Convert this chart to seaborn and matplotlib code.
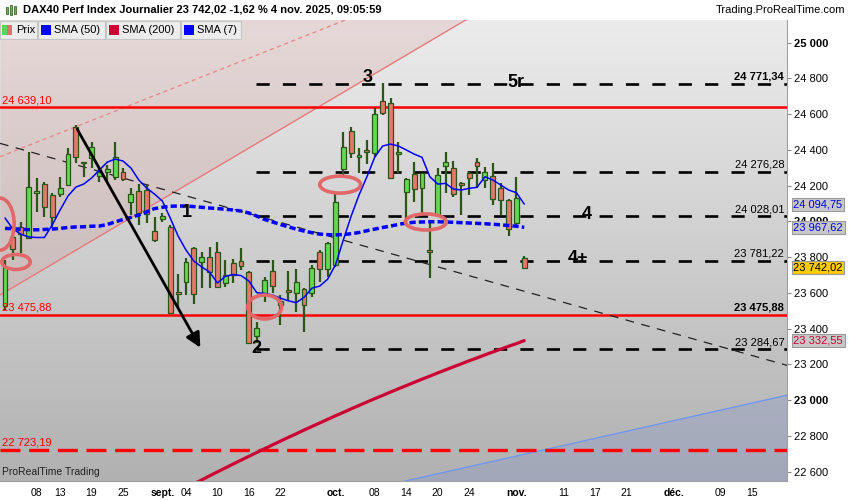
import numpy as np
import pandas as pd
import matplotlib
matplotlib.use("Agg")
import matplotlib.pyplot as plt
import seaborn as sns
from matplotlib.patches import Ellipse, Rectangle
from matplotlib.colors import LinearSegmentedColormap

# -----------------------------
# Data
# -----------------------------
dates = pd.bdate_range("2025-08-04", "2025-11-04")
all_days = pd.bdate_range("2025-08-04", "2025-12-19")

opens = [23527, 23911, 23970, 23905, 24160, 24208, 24148, 24153, 24204, 24530,
         24325, 24356, 24254, 24275, 24250, 24275, 24107, 24172, 24176, 23948,
         24012, 23970, 23603, 23663, 23849, 23771, 23799, 23830, 23657, 23766,
         23780, 23715, 23359, 23598, 23724, 23530, 23610, 23598, 23620, 23598,
         23830, 23732, 23756, 24291, 24508, 24359, 24400, 24381, 24675, 24664,
         24376, 24166, 24264, 24185, 23835, 24036, 24310, 24297, 24210, 24272,
         24331, 24232, 24256, 24185, 24120, 23989, 23797]
highs = [23784, 23918, 23995, 24390, 24241, 24222, 24160, 24247, 24409, 24540,
         24334, 24443, 24306, 24316, 24446, 24297, 24185, 24209, 24204, 24026,
         24045, 23980, 23704, 23793, 23855, 23830, 23855, 23886, 23784, 23788,
         23849, 23720, 23439, 23687, 23784, 23588, 23724, 23732, 23626, 23756,
         23840, 23886, 24153, 24502, 24530, 24409, 24456, 24633, 24773, 24689,
         24446, 24241, 24334, 24269, 23989, 24297, 24387, 24340, 24222, 24278,
         24353, 24306, 24325, 24213, 24125, 24247, 23806]
lows = [23504, 23784, 23822, 23902, 24054, 24026, 23961, 24138, 24200, 24325,
        24250, 24297, 24222, 24222, 24232, 24226, 24036, 23980, 23989, 23886,
        23998, 23482, 23514, 23588, 23538, 23626, 23626, 23631, 23631, 23654,
        23728, 23314, 23318, 23551, 23598, 23420, 23560, 23495, 23383, 23579,
        23663, 23690, 23746, 24260, 24353, 24269, 24321, 24359, 24595, 24241,
        24269, 23985, 24110, 24045, 23682, 24026, 24157, 24135, 24036, 24148,
        24185, 24185, 24092, 24036, 23918, 23980, 23738]
closes = [23747, 23845, 23929, 24194, 24168, 24079, 24023, 24185, 24376, 24359,
          24330, 24418, 24278, 24293, 24362, 24236, 24153, 24045, 24040, 23896,
          24032, 23486, 23594, 23771, 23594, 23802, 23715, 23635, 23700, 23700,
          23750, 23321, 23402, 23672, 23638, 23555, 23605, 23663, 23532, 23738,
          23732, 23877, 24110, 24418, 24381, 24372, 24387, 24599, 24608, 24241,
          24387, 24236, 24180, 24269, 23830, 24260, 24331, 24153, 24205, 24241,
          24310, 24278, 24124, 24120, 23956, 24129, 23742]

sma7 = [24019, 23957, 23929, 23913, 23910, 23910, 23980, 24064, 24142, 24192,
        24209, 24243, 24288, 24332, 24349, 24338, 24299, 24232, 24187, 24153,
        24114, 24019, 23918, 23840, 23778, 23745, 23717, 23655, 23692, 23703,
        23697, 23666, 23601, 23597, 23588, 23570, 23556, 23545, 23575, 23626,
        23638, 23676, 23756, 23896, 24030, 24148, 24250, 24360, 24422, 24433,
        24422, 24400, 24377, 24359, 24250, 24209, 24213, 24181, 24176, 24185,
        24191, 24250, 24232, 24204, 24176, 24161, 24097]
sma50 = [23961, 23959, 23956, 23954, 23953, 23955, 23957, 23961, 23966, 23969,
         23970, 23973, 23974, 23983, 23997, 24011, 24022, 24036, 24053, 24072,
         24079, 24085, 24086, 24086, 24083, 24079, 24075, 24072, 24068, 24064,
         24058, 24047, 24030, 24011, 23997, 23983, 23970, 23957, 23946, 23937,
         23929, 23926, 23924, 23927, 23931, 23938, 23948, 23957, 23966, 23974,
         23983, 23991, 23995, 23997, 23998, 23998, 23997, 23995, 23993, 23991,
         23989, 23987, 23984, 23981, 23977, 23973, 23967]
# SMA(200) from 2025-09-04 on (earlier values are below the visible range)
sma200 = [22509, 22531, 22553, 22576, 22598, 22620, 22642, 22664, 22685, 22707,
          22728, 22749, 22770, 22791, 22811, 22832, 22852, 22872, 22892, 22912,
          22931, 22951, 22970, 22989, 23008, 23026, 23045, 23063, 23081, 23099,
          23117, 23134, 23152, 23169, 23186, 23203, 23220, 23236, 23253, 23269,
          23285, 23301, 23316, 23333]

red_levels = [24639.10, 23475.88]
red_dashed_level = 22723.19
black_levels = [24771.34, 24276.28, 24028.01, 23781.22, 23284.67]

# drawn objects (x = trading-day position, y = index value)
trend_x, trend_y = [-0.64, 99.5], [24437, 23193]
chan_x = [-0.64, 60]
chan_low_y = [23588, 25165]
chan_high_y = [24362, 25419]
blue_x, blue_y = [50.9, 99.5], [22547, 23028]
arrow_from, arrow_to = (9.0, 24530), (25.0, 23280)
ellipses = [(-0.64, 23985, 3.6, 291), (1.4, 23773, 3.6, 84), (33.0, 23521, 4.3, 134),
            (42.6, 24206, 5.2, 95), (53.5, 23997, 5.2, 90)]
wave_labels = [("1", 23.1, 24052), ("2", 32.0, 23286), ("3", 46.1, 24803),
               ("4", 73.9, 24036), ("4+", 72.8, 23795), ("5r", 65.0, 24780)]

tick_dates = ["2025-08-08", "2025-08-13", "2025-08-19", "2025-08-25", "2025-09-01",
              "2025-09-04", "2025-09-10", "2025-09-16", "2025-09-22", "2025-10-01",
              "2025-10-08", "2025-10-14", "2025-10-20", "2025-10-24", "2025-11-03",
              "2025-11-11", "2025-11-17", "2025-11-21", "2025-12-01", "2025-12-09",
              "2025-12-15"]
tick_labels = ["08", "13", "19", "25", "sept.", "04", "10", "16", "22", "oct.",
               "08", "14", "20", "24", "nov.", "11", "17", "21", "déc.", "09", "15"]

# -----------------------------
# Figure
# -----------------------------
sns.set_style("white")
plt.rcParams["font.family"] = ["Liberation Sans", "DejaVu Sans"]
plt.rcParams["text.color"] = "black"
plt.rcParams["xtick.color"] = "black"
plt.rcParams["ytick.color"] = "black"

fig = plt.figure(figsize=(8.5, 5), dpi=100)
ax = fig.add_axes([0, 19 / 500, 787 / 850, 462 / 500])
xlo, xhi = -0.64, 99.4
ylo, yhi = 22547, 25133

bg = LinearSegmentedColormap.from_list("bg", ["#b1b1b1", "#ececec"])
ax.imshow(np.linspace(0, 1, 256).reshape(-1, 1), extent=[xlo, xhi, ylo, yhi],
          origin="lower", aspect="auto", cmap=bg, zorder=0)

# channel (pink area above the lower line)
cx = np.linspace(chan_x[0], chan_x[1], 200)
cy = np.interp(cx, chan_x, chan_low_y)
ax.fill_between(cx, np.minimum(cy, yhi), yhi, color="#d27a7a", alpha=0.17, lw=0, zorder=0.5)
ax.plot(chan_x, chan_low_y, color="#e87a7a", lw=1, zorder=1)
ax.plot(chan_x, chan_high_y, color="#e88a8a", lw=1, ls=(0, (3, 2.5)), zorder=1)

# light blue line and area
ax.fill_between(blue_x, blue_y, ylo, color="#7d8fcf", alpha=0.27, lw=0, zorder=0.5)
ax.plot(blue_x, blue_y, color="#6f96f0", lw=1, zorder=1)

# horizontal levels
for lvl in red_levels:
    ax.axhline(lvl, color="#ff0000", lw=1.8, zorder=2)
ax.axhline(red_dashed_level, color="#ff0000", lw=2.4, ls=(0, (6, 2.6)), zorder=2)
for lvl in black_levels:
    ax.plot([31.9, xhi], [lvl, lvl], color="black", lw=1.9, ls=(0, (5, 5)), zorder=2)

ax.plot(trend_x, trend_y, color="#222222", lw=0.9, ls=(0, (7, 6)), zorder=2)


def fmt(v, dec=2):
    s = f"{v:,.{dec}f}"
    return s.replace(",", " ").replace(".", ",")


for lvl in red_levels + [red_dashed_level]:
    ax.text(xlo + 0.25, lvl + 12, fmt(lvl), color="#ff0000", fontsize=8, va="bottom", zorder=7)
for lvl in black_levels:
    ax.text(xhi - 0.35, lvl + 12, fmt(lvl), color="black", fontsize=8, ha="right", va="bottom",
            fontweight="bold" if lvl == black_levels[0] else "normal", zorder=7)
ax.text(xhi - 0.35, red_levels[1] + 12, fmt(red_levels[1]), color="black", fontsize=8,
        ha="right", va="bottom", fontweight="bold", zorder=7)

# candles
x = np.arange(len(dates))
o = np.array(opens)
c = np.array(closes)
wick = "#2c5518"
up = c >= o
ax.vlines(x, lows, highs, color=wick, lw=1.6, zorder=3)
body_lo = np.minimum(o, c)
body_h = np.maximum(np.abs(c - o), 9)
ax.bar(x, body_h, bottom=body_lo, width=0.62,
       color=np.where(up, "#62d853", "#e6776c"), edgecolor=wick, linewidth=0.9, zorder=4)

# moving averages
sns.lineplot(x=x, y=sma50, ax=ax, color="#0000ff", lw=2.5, zorder=5)
ax.lines[-1].set_linestyle((0, (1.8, 0.9)))
sns.lineplot(x=x[len(dates) - len(sma200):], y=sma200, ax=ax, color="#cc0033", lw=2.3, zorder=5)
sns.lineplot(x=x, y=sma7, ax=ax, color="#0000ff", lw=1.1, zorder=5)

# annotations
for ex, ey, ew, eh in ellipses:
    ax.add_patch(Ellipse((ex, ey), ew, eh, fill=False, ec="#e06868", lw=2.6, zorder=6))
ax.annotate("", xy=arrow_to, xytext=arrow_from,
            arrowprops=dict(arrowstyle="-|>", color="black", lw=2, mutation_scale=22), zorder=6)
for txt, tx, ty in wave_labels:
    ax.text(tx, ty, txt, fontsize=13, fontweight="bold", color="black",
            ha="center", va="center", zorder=7)

ax.text(xlo + 0.25, ylo + 35, "ProRealTime Trading", fontsize=7.5, color="#222222", zorder=7)

# axes
ax.set_xlim(xlo, xhi)
ax.set_ylim(ylo, yhi)
ax.set_xlabel("")
ax.set_ylabel("")
ax.yaxis.tick_right()
yt = np.arange(22600, 25001, 200)
ax.set_yticks(yt)
ax.set_yticklabels([fmt(v, 0) for v in yt], fontsize=8)
for lab, v in zip(ax.get_yticklabels(), yt):
    if v % 1000 == 0:
        lab.set_fontweight("bold")
tick_pos = [all_days.get_loc(pd.Timestamp(d)) for d in tick_dates]
ax.set_xticks(tick_pos)
ax.set_xticklabels(tick_labels, fontsize=7.5)
for lab in ax.get_xticklabels():
    if not lab.get_text().isdigit():
        lab.set_fontweight("bold")
ax.tick_params(axis="both", direction="out", length=3, width=0.8, color="#888888", pad=2)
for side in ["top", "left"]:
    ax.spines[side].set_visible(False)
for side in ["right", "bottom"]:
    ax.spines[side].set_color("#a0a0a0")

# value boxes on the price axis
boxes = [(24094.75, "#0000ee", "#c8c8c8"), (23967.62, "#0000ee", "#c8c8c8"),
         (23742.02, "black", "#ffcc00"), (23332.55, "#cc0033", "#c8c8c8")]
for val, tc, fc in boxes:
    ax.annotate(fmt(val), xy=(1, val), xycoords=("axes fraction", "data"),
                xytext=(4.5, 0), textcoords="offset points", ha="left", va="center",
                fontsize=8, color=tc, annotation_clip=False, zorder=8,
                bbox=dict(boxstyle="square,pad=0.15", fc=fc, ec="#999999", lw=0.8))

# header and legend row (pixel overlay)
ov = fig.add_axes([0, 0, 1, 1], zorder=10)
ov.set_xlim(0, 850)
ov.set_ylim(500, 0)
ov.axis("off")
ov.patch.set_alpha(0)
ov.add_patch(Rectangle((0, 0), 850, 19.5, fc="white", ec="none"))
for bx, bh, col in [(6, 7, "#5cb84a"), (10, 10, "#5cb84a"), (14, 8, "#5cb84a")]:
    ov.add_patch(Rectangle((bx, 10 - bh / 2), 2.2, bh, fc=col, ec="#2c5518", lw=0.5))
ov.text(23, 10, "DAX40 Perf Index Journalier 23 742,02 -1,62 % 4 nov. 2025, 09:05:59",
        fontsize=8, fontweight="bold", va="center")
ov.text(845, 10, "Trading.ProRealTime.com", fontsize=8, ha="right", va="center")

legend = [("Prix", 0, 37), ("SMA (50)", 38, 105), ("SMA (200)", 106, 180), ("SMA (7)", 181, 241)]
legend_colors = [None, "#0000ff", "#cc0033", "#0000ff"]
for (name, x0, x1), col in zip(legend, legend_colors):
    ov.add_patch(Rectangle((x0, 20.5), x1 - x0, 18, fc="#ececec", ec="#c4c4c4", lw=0.8))
    if col is None:
        ov.add_patch(Rectangle((x0 + 2.5, 25), 5, 10, fc="#5cd45c", ec="none"))
        ov.add_patch(Rectangle((x0 + 7.5, 25), 5, 10, fc="#e07070", ec="none"))
    else:
        ov.add_patch(Rectangle((x0 + 3, 25), 10, 10, fc=col, ec="none"))
    ov.text(x0 + 16.5, 30, name, fontsize=8, va="center")

fig.savefig("out.png", dpi=100, facecolor="white")
